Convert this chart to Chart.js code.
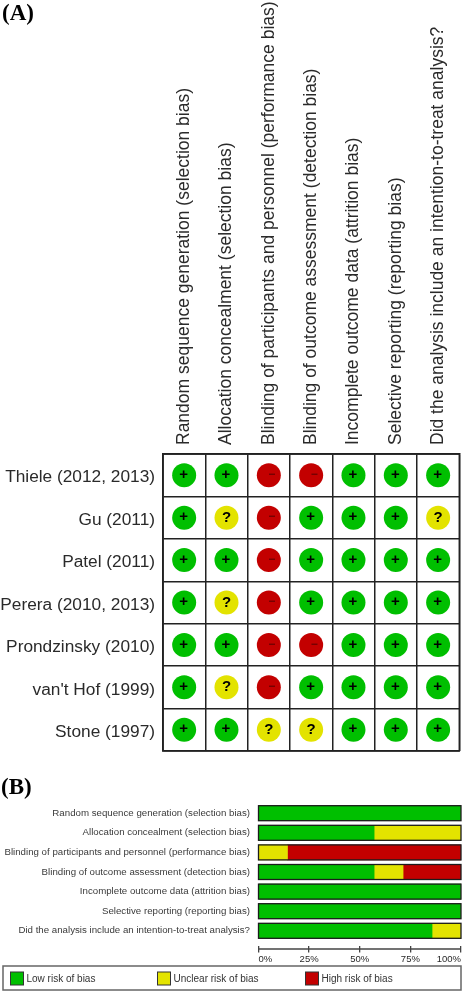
<!DOCTYPE html>
<html><head><meta charset="utf-8">
<style>html,body{margin:0;padding:0;background:#fff;width:463px;height:992px;overflow:hidden}
canvas{position:absolute;left:0;display:block}</style>
<script src="https://cdn.jsdelivr.net/npm/chart.js@4/dist/chart.umd.min.js"></script>
</head><body>
<canvas id="a" width="463" height="770" style="top:0"></canvas>
<canvas id="b" width="463" height="222" style="top:770px"></canvas>
<script>
const domains = [
  "Random sequence generation (selection bias)",
  "Allocation concealment (selection bias)",
  "Blinding of participants and personnel (performance bias)",
  "Blinding of outcome assessment (detection bias)",
  "Incomplete outcome data (attrition bias)",
  "Selective reporting (reporting bias)",
  "Did the analysis include an intention-to-treat analysis?"
];
const studies = ["Thiele (2012, 2013)","Gu (2011)","Patel (2011)","Perera (2010, 2013)","Prondzinsky (2010)","van't Hof (1999)","Stone (1997)"];
const thiele      = ["+","+","-","-","+","+","+"];
const gu          = ["+","?","-","+","+","+","?"];
const patel       = ["+","+","-","+","+","+","+"];
const perera      = ["+","?","-","+","+","+","+"];
const prondzinsky = ["+","+","-","-","+","+","+"];
const vantHof     = ["+","?","-","+","+","+","+"];
const stone       = ["+","+","?","?","+","+","+"];
const ratings = [thiele,gu,patel,perera,prondzinsky,vantHof,stone];

const lowRisk     = [100,57.1,0,57.1,100,100,85.7];
const unclearRisk = [0,42.9,14.3,14.3,0,0,14.3];
const highRisk    = [0,0,85.7,28.6,0,0,0];
const percentTicks = [0,25,50,75,100];
const legendLabels = ["Low risk of bias","Unclear risk of bias","High risk of bias"];

const GREEN="#00bf00", YELLOW="#e3e300", RED="#c30000";
const FONT="'Liberation Sans', Arial, sans-serif";
const colourOf = {"+":GREEN,"?":YELLOW,"-":RED};
Chart.defaults.animation=false;

const panelLabel=(text,x,y)=>({id:"panelLabel",afterDraw(c){
  const g=c.ctx;g.save();g.font="bold 23px 'Liberation Serif', serif";g.fillStyle="#000";
  g.textAlign="left";g.textBaseline="middle";g.fillText(text,x,y);g.restore();
}});

const points=[];
studies.forEach((s,i)=>domains.forEach((d,j)=>points.push({x:d,y:s,rating:ratings[i][j]})));

const glyphs={id:"glyphs",afterDatasetsDraw(chart){
  const ctx=chart.ctx, meta=chart.getDatasetMeta(0);
  ctx.save();ctx.textAlign="center";ctx.textBaseline="middle";
  meta.data.forEach((el,k)=>{
    const r=points[k].rating;
    if(r==="+"){ctx.font="bold 15px "+FONT;ctx.fillStyle="#000";ctx.fillText("+",el.x-0.5,el.y-0.5);}
    else if(r==="?"){ctx.font="bold 15px "+FONT;ctx.fillStyle="#000";ctx.fillText("?",el.x,el.y);}
    else{ctx.font="bold 12px "+FONT;ctx.fillStyle="#6e0000";ctx.fillText("\u2212",el.x+3,el.y-0.5);}
  });
  ctx.restore();
}};

new Chart(document.getElementById("a"),{
  type:"scatter",
  data:{datasets:[{data:points,
    pointRadius:12,pointHoverRadius:12,pointBorderWidth:0,
    pointBackgroundColor:points.map(p=>colourOf[p.rating])}]},
  options:{responsive:false,devicePixelRatio:1,
    layout:{autoPadding:false,padding:{left:0,right:3.7,bottom:19,top:0}},
    plugins:{legend:{display:false},tooltip:{enabled:false}},
    scales:{
      x:{type:"category",labels:domains,position:"top",offset:true,
        afterFit(s){s.height=454;},
        grid:{offset:true,color:"#222",lineWidth:1.5,drawTicks:false},
        border:{color:"#222",width:1.5},
        ticks:{autoSkip:false,minRotation:90,maxRotation:90,padding:9,labelOffset:21,color:"#2a2a2a",font:{family:FONT,size:17.5}}},
      y:{type:"category",labels:studies,offset:true,
        afterFit(s){s.width=163;},
        grid:{offset:true,color:"#222",lineWidth:1.5,drawTicks:false},
        border:{color:"#222",width:1.5},
        ticks:{autoSkip:false,padding:8,labelOffset:2.5,color:"#2a2a2a",font:{family:FONT,size:17.3}}}
    }},
  plugins:[glyphs,panelLabel("(A)",2,14),{id:"frameA",afterDatasetsDraw(c){const a=c.chartArea,x=c.ctx;x.save();x.strokeStyle="#222";x.lineWidth=1.5;x.strokeRect(a.left,a.top,a.right-a.left,a.bottom-a.top);x.restore();}}]
});

const rowIndex=domains.map((d,i)=>i);
const series=(vals,label,colour)=>({label,backgroundColor:colour,borderWidth:0,barThickness:15,
  data:vals.map((v,i)=>({x:v,y:rowIndex[i]}))});

const barExtras={id:"barExtras",
  afterDatasetsDraw(c){
    const x=c.ctx, sx=c.scales.x, sy=c.scales.y;
    x.save();x.strokeStyle="#1c1c1c";x.lineWidth=1.3;
    rowIndex.forEach(i=>{const m=sy.getPixelForValue(i);
      x.strokeRect(sx.getPixelForValue(0),m-7.5,sx.getPixelForValue(100)-sx.getPixelForValue(0),15);});
    x.strokeStyle="#444";x.lineWidth=1.5;
    x.beginPath();x.moveTo(sx.getPixelForValue(0),179);x.lineTo(sx.getPixelForValue(100),179);x.stroke();
    x.restore();
  },
  afterDraw(c){
    const x=c.ctx;
    x.save();
    x.fillStyle="#fff";x.strokeStyle="#666";x.lineWidth=1.5;
    x.fillRect(3,196,458,24);x.strokeRect(3,196,458,24);
    const swatchX=[10.5,157.5,305.5];
    x.font="10px "+FONT;x.textBaseline="middle";x.textAlign="left";
    c.data.datasets.forEach((d,i)=>{
      x.fillStyle=d.backgroundColor;x.fillRect(swatchX[i],202,13,13);
      x.strokeStyle="#333";x.lineWidth=1;x.strokeRect(swatchX[i],202,13,13);
      x.fillStyle="#333";x.fillText(d.label,swatchX[i]+16,209.5);
    });
    x.restore();
  }};

new Chart(document.getElementById("b"),{
  type:"bar",
  data:{datasets:[series(lowRisk,legendLabels[0],GREEN),series(unclearRisk,legendLabels[1],YELLOW),series(highRisk,legendLabels[2],RED)]},
  options:{indexAxis:"y",responsive:false,devicePixelRatio:1,
    layout:{autoPadding:false,padding:{left:0,right:2,top:33.4,bottom:0}},
    plugins:{legend:{display:false},tooltip:{enabled:false}},
    scales:{
      x:{type:"linear",min:0,max:100,stacked:true,
        afterFit(s){s.height=46;},
        afterBuildTicks(s){s.ticks=percentTicks.map(v=>({value:v}));},
        grid:{drawOnChartArea:false,color:"#444",lineWidth:1.3,tickLength:6.5},
        border:{display:false},
        ticks:{align:"inner",padding:1,maxRotation:0,autoSkip:false,color:"#2a2a2a",font:{family:FONT,size:9.5},callback:v=>v+"%"}},
      y:{type:"linear",reverse:true,offset:false,min:-0.5,max:6.775,stacked:true,
        afterFit(s){s.width=258.5;},
        afterBuildTicks(s){s.ticks=rowIndex.map(v=>({value:v}));},
        grid:{display:false,drawTicks:false,offset:false},border:{display:false},
        ticks:{autoSkip:false,padding:8.5,color:"#3a3a3a",font:{family:FONT,size:9.7},callback:v=>domains[v]}}
    }},
  plugins:[barExtras,panelLabel("(B)",1,18)]
});
</script>
</body></html>
